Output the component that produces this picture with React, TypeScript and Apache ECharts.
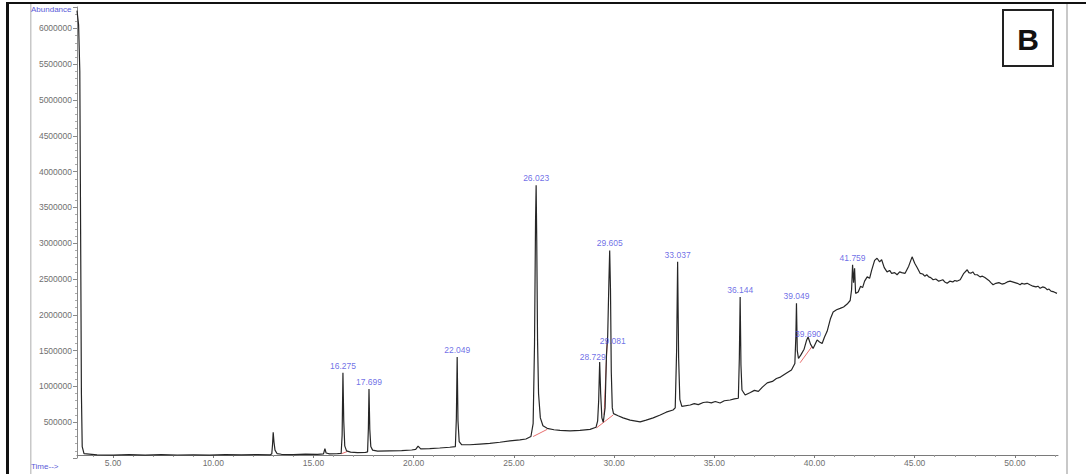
import React, { useEffect, useRef } from "react";
import * as echarts from "echarts";

// Total ion chromatogram: [retention time (min), abundance]
const trace: [number, number][] = [
  [3.2, 6250000], [3.28, 6050000], [3.34, 5400000], [3.38, 3200000], [3.42, 900000], [3.46, 160000], [3.55, 60000],
  [4.2, 44000], [5.0, 40000], [5.8, 46000], [6.6, 41000], [7.4, 47000], [8.2, 42000], [9.0, 45000], [9.8, 41000],
  [10.6, 46000], [11.4, 43000], [12.2, 47000], [12.85, 45000],
  [12.92, 60000], [12.96, 200000], [12.99, 360000], [13.03, 220000], [13.08, 110000], [13.18, 62000], [13.4, 52000],
  [14.0, 48000], [14.6, 53000], [15.2, 51000], [15.5, 58000], [15.57, 130000], [15.63, 70000], [15.8, 58000], [16.2, 60000],
  [16.38, 64000], [16.43, 320000], [16.47, 1190000], [16.51, 520000], [16.56, 170000], [16.65, 100000], [16.85, 82000],
  [17.2, 76000], [17.6, 78000],
  [17.7, 86000], [17.74, 420000], [17.77, 965000], [17.81, 400000], [17.86, 160000], [17.95, 110000], [18.2, 96000],
  [18.8, 100000], [19.4, 104000], [19.9, 112000],
  [20.1, 120000], [20.22, 165000], [20.35, 128000], [20.8, 132000], [21.3, 140000], [21.8, 150000], [22.08, 160000],
  [22.13, 560000], [22.17, 1410000], [22.21, 520000], [22.27, 230000], [22.4, 185000], [22.8, 185000], [23.3, 195000],
  [23.8, 205000], [24.3, 220000], [24.8, 238000], [25.3, 252000], [25.6, 265000], [25.85, 300000],
  [25.96, 480000], [26.03, 1600000], [26.08, 3300000], [26.11, 3810000], [26.14, 3050000], [26.18, 1650000],
  [26.23, 900000], [26.32, 560000], [26.45, 450000], [26.66, 415000], [27.0, 395000], [27.3, 385000], [27.8, 380000],
  [28.3, 385000], [28.8, 400000], [29.1, 430000],
  [29.18, 520000], [29.23, 800000], [29.28, 1340000], [29.33, 900000], [29.39, 560000], [29.46, 500000],
  [29.55, 700000], [29.62, 1450000], [29.68, 1700000], [29.74, 2450000], [29.78, 2900000], [29.82, 2350000],
  [29.86, 1200000], [29.91, 700000], [29.97, 620000], [30.2, 590000], [30.45, 560000], [30.8, 530000], [31.3, 505000],
  [31.6, 530000], [31.95, 560000], [32.3, 600000], [32.6, 640000], [32.94, 670000],
  [33.05, 700000], [33.12, 1500000], [33.17, 2740000], [33.22, 1400000], [33.28, 820000], [33.38, 720000],
  [33.8, 740000], [34.0, 760000], [34.2, 745000], [34.45, 775000], [34.64, 782000], [34.85, 770000], [35.05, 790000],
  [35.29, 768000], [35.5, 800000], [35.79, 810000], [36.0, 825000], [36.2, 835000],
  [36.25, 1400000], [36.29, 2250000], [36.33, 1300000], [36.38, 950000], [36.54, 880000], [36.8, 915000],
  [37.0, 945000], [37.2, 930000], [37.4, 990000], [37.64, 1050000], [37.9, 1070000], [38.1, 1110000], [38.3, 1130000],
  [38.63, 1190000], [38.85, 1230000], [39.02, 1320000],
  [39.07, 1700000], [39.1, 2160000], [39.14, 1500000], [39.2, 1390000], [39.32, 1440000], [39.48, 1520000],
  [39.6, 1640000], [39.68, 1690000], [39.8, 1590000], [39.93, 1530000], [40.13, 1650000], [40.25, 1620000],
  [40.38, 1600000], [40.5, 1690000], [40.63, 1770000], [40.8, 1950000], [40.93, 2040000], [41.1, 2070000],
  [41.28, 2090000], [41.45, 2110000], [41.63, 2150000], [41.78, 2200000],
  [41.85, 2350000], [41.9, 2700000], [41.95, 2450000], [42.0, 2650000], [42.05, 2300000], [42.18, 2320000],
  [42.3, 2400000], [42.4, 2380000], [42.5, 2470000], [42.63, 2530000], [42.75, 2510000], [42.85, 2620000],
  [43.0, 2760000], [43.12, 2790000], [43.25, 2740000], [43.35, 2770000], [43.48, 2660000], [43.62, 2600000],
  [43.75, 2620000], [43.85, 2580000], [44.0, 2590000], [44.12, 2560000], [44.25, 2600000], [44.35, 2590000],
  [44.52, 2580000], [44.7, 2680000], [44.87, 2810000], [45.0, 2720000], [45.12, 2660000], [45.27, 2580000],
  [45.4, 2570000], [45.5, 2540000], [45.6, 2560000], [45.7, 2530000], [45.8, 2520000], [45.92, 2490000],
  [46.05, 2500000], [46.2, 2470000], [46.3, 2480000], [46.4, 2490000], [46.5, 2460000], [46.62, 2440000],
  [46.75, 2470000], [46.9, 2460000], [47.0, 2480000], [47.1, 2470000], [47.27, 2490000], [47.45, 2580000],
  [47.62, 2630000], [47.7, 2590000], [47.8, 2580000], [47.9, 2600000], [48.0, 2560000], [48.12, 2560000],
  [48.26, 2530000], [48.38, 2540000], [48.5, 2520000], [48.6, 2500000], [48.7, 2480000], [48.8, 2450000],
  [48.91, 2420000], [49.05, 2440000], [49.2, 2450000], [49.35, 2430000], [49.5, 2440000], [49.62, 2460000],
  [49.76, 2470000], [49.88, 2460000], [50.0, 2450000], [50.12, 2440000], [50.26, 2420000], [50.35, 2440000],
  [50.45, 2430000], [50.61, 2440000], [50.75, 2420000], [50.9, 2400000], [51.05, 2390000], [51.15, 2400000],
  [51.26, 2370000], [51.38, 2390000], [51.5, 2380000], [51.62, 2350000], [51.7, 2360000], [51.8, 2330000],
  [51.95, 2320000], [52.1, 2300000],
];

// Peak annotations
const peakNames = ["16.275", "17.699", "22.049", "26.023", "28.729", "29.081", "29.605", "33.037", "36.144", "39.049", "39.690", "41.759"];
const peakTimes = [16.47, 17.77, 22.17, 26.11, 29.28, 29.68, 29.78, 33.17, 36.29, 39.1, 39.68, 41.9];
const peakHeights = [1190000, 965000, 1410000, 3810000, 1340000, 1700000, 2900000, 2740000, 2250000, 2160000, 1690000, 2700000];
const peakLabelShift: [number, number][] = [
  [0, 0], [0, 0], [0, 0], [0, 0], [-7, 2], [5, 12], [0, 0], [0, 0], [0, 0], [0, 0], [0, 4], [0, 0],
];

// Integration baselines (red)
const integrationSegments: [number, number][][] = [
  [[16.38, 58000], [16.7, 92000]],
  [[25.96, 300000], [26.66, 400000]],
  [[29.12, 420000], [29.95, 600000]],
  [[29.5, 600000], [29.66, 1650000]],
  [[39.28, 1330000], [39.88, 1560000]],
];

// Axis ticks
const xMajorTicks = [5, 10, 15, 20, 25, 30, 35, 40, 45, 50];
const xMinorTicks = [4, 6, 7, 8, 9, 11, 12, 13, 14, 16, 17, 18, 19, 21, 22, 23, 24, 26, 27, 28, 29, 31, 32, 33, 34, 36, 37, 38, 39, 41, 42, 43, 44, 46, 47, 48, 49, 51, 52];
const yMax = 6300000;
const yStep = 500000;
const xMin = 3.2;
const xMax = 52.15;
const FONT = "Liberation Sans, Arial, sans-serif";

export default function App() {
  const ref = useRef<HTMLDivElement>(null);
  useEffect(() => {
    const chart = echarts.init(ref.current!, null, { renderer: "svg" });
    const labelData = peakNames.map((n, i) => ({
      name: n,
      value: [peakTimes[i], peakHeights[i]],
      label: { offset: peakLabelShift[i] },
    }));
    const redSeries = integrationSegments.map((seg) => ({
      type: "line",
      data: seg,
      symbol: "none",
      silent: true,
      lineStyle: { color: "#e87070", width: 1 },
      z: 2,
    }));
    chart.setOption({
      animation: false,
      backgroundColor: "#ffffff",
      grid: { left: 77, right: 28, top: 7, bottom: 16, containLabel: false },
      xAxis: [
        {
          type: "value",
          min: xMin,
          max: xMax,
          offset: -3,
          axisLine: { show: true, onZero: false, lineStyle: { color: "#7a7a7a", width: 1 } },
          axisTick: { show: true, length: 3, customValues: xMajorTicks, lineStyle: { color: "#7a7a7a" } },
          axisLabel: {
            customValues: xMajorTicks,
            formatter: (v: number) => v.toFixed(2),
            fontSize: 8.5,
            color: "#707070",
            margin: 3,
            fontFamily: FONT,
          },
          splitLine: { show: false },
        },
        {
          type: "value",
          position: "bottom",
          min: xMin,
          max: xMax,
          offset: -3,
          axisLine: { show: false },
          axisTick: { show: true, length: 2, customValues: xMinorTicks, lineStyle: { color: "#9a9a9a" } },
          axisLabel: { show: false },
          splitLine: { show: false },
        },
      ],
      yAxis: {
        type: "value",
        min: 0,
        max: yMax,
        interval: yStep,
        axisLine: { show: true, lineStyle: { color: "#8a8a8a", width: 1 } },
        axisTick: { show: true, length: 4, lineStyle: { color: "#8a8a8a" } },
        minorTick: { show: true, splitNumber: 5, length: 2, lineStyle: { color: "#aaaaaa" } },
        axisLabel: {
          formatter: (v: number) => String(v),
          fontSize: 8.5,
          color: "#707070",
          margin: 5,
          fontFamily: FONT,
          showMinLabel: false,
          showMaxLabel: false,
        },
        splitLine: { show: false },
      },
      series: [
        {
          type: "line",
          data: trace,
          symbol: "none",
          silent: true,
          lineStyle: { color: "#262626", width: 1.2 },
          z: 3,
        },
        ...redSeries,
        {
          type: "scatter",
          data: labelData,
          symbolSize: 1,
          itemStyle: { color: "rgba(0,0,0,0)" },
          silent: true,
          z: 4,
          label: {
            show: true,
            position: "top",
            distance: 2,
            formatter: "{b}",
            fontSize: 8.5,
            color: "#4a4ae0",
            fontFamily: FONT,
          },
        },
      ],
      graphic: [
        { type: "rect", shape: { x: 6, y: 2, width: 3, height: 472 }, style: { fill: "#111" }, silent: true },
        { type: "rect", shape: { x: 6, y: 2, width: 1080, height: 2 }, style: { fill: "#111" }, silent: true },
        { type: "rect", shape: { x: 30, y: 4, width: 1.5, height: 470 }, style: { fill: "#c8c8c8" }, silent: true },
        { type: "rect", shape: { x: 1066, y: 4, width: 2, height: 470 }, style: { fill: "#c8c8c8" }, silent: true },
        {
          type: "text",
          x: 31,
          y: 5,
          style: { text: "Abundance", fontSize: 8, fontFamily: FONT, fill: "#5a5ad8" },
          silent: true,
        },
        {
          type: "text",
          x: 31,
          y: 462,
          style: { text: "Time-->", fontSize: 8, fontFamily: FONT, fill: "#5a5ad8" },
          silent: true,
        },
        {
          type: "rect",
          shape: { x: 1003, y: 10, width: 50, height: 56 },
          style: { fill: "#fff", stroke: "#222", lineWidth: 2 },
          silent: true,
        },
        {
          type: "text",
          x: 1028,
          y: 39,
          style: {
            text: "B",
            fontSize: 30,
            fontWeight: "bold",
            fontFamily: FONT,
            fill: "#111",
            align: "center",
            verticalAlign: "middle",
          },
          silent: true,
        },
      ],
    });
    return () => chart.dispose();
  }, []);
  return (
    <div
      ref={ref}
      style={{ position: "fixed", left: 0, top: 0, width: 1086, height: 474, background: "#fff" }}
    />
  );
}
